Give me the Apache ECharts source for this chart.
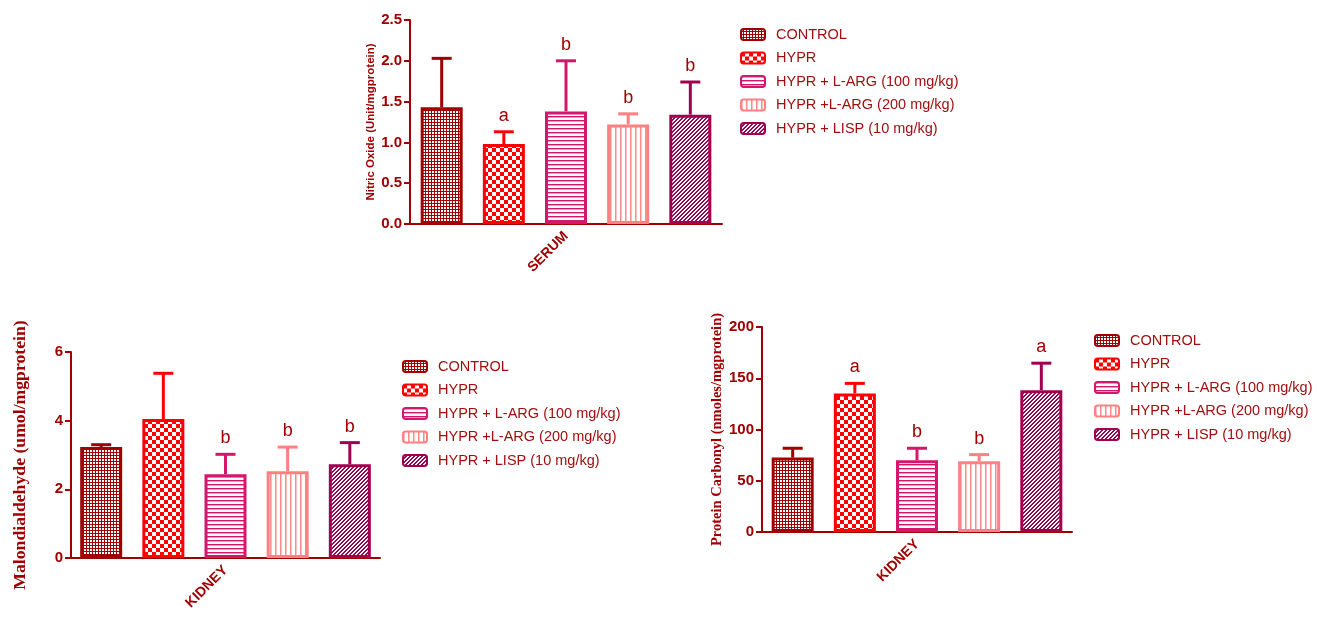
<!DOCTYPE html>
<html>
<head>
<meta charset="utf-8">
<script src="https://cdn.jsdelivr.net/npm/echarts@6/dist/echarts.min.js"></script>
<style>
html,body{margin:0;padding:0;background:#fff;}
#chart{width:1320px;height:619px;}
</style>
</head>
<body>
<div id="chart"></div>
<script>
// ---- data ----
var groups = ['CONTROL', 'HYPR', 'HYPR + L-ARG (100 mg/kg)', 'HYPR +L-ARG (200 mg/kg)', 'HYPR + LISP (10 mg/kg)'];
var nitricCategory = ['SERUM'];
var nitricMean = [1.43, 0.98, 1.38, 1.22, 1.34];
var nitricErr = [0.60, 0.15, 0.62, 0.13, 0.40];
var nitricLetters = ['', 'a', 'b', 'b', 'b'];
var nitricTicks = { min: 0, max: 2.5, interval: 0.5 };

var mdaCategory = ['KIDNEY'];
var mdaMean = [3.23, 4.05, 2.44, 2.53, 2.73];
var mdaErr = [0.07, 1.33, 0.58, 0.70, 0.63];
var mdaLetters = ['', '', 'b', 'b', 'b'];
var mdaTicks = { min: 0, max: 6, interval: 2 };

var pcCategory = ['KIDNEY'];
var pcMean = [72.6, 135.2, 70.0, 69.0, 138.4];
var pcErr = [9.1, 9.8, 11.7, 6.5, 26.3];
var pcLetters = ['', 'a', 'b', 'b', 'a'];
var pcTicks = { min: 0, max: 200, interval: 50 };

// ---- styles ----
var colors = ['#A00000', '#FF0000', '#D4166C', '#FF8080', '#A00050'];
var AXIS = '#A00000';
var BAR_W = 42;
var GAP_RATIO = 0.48;
var STEP = BAR_W * (1 + GAP_RATIO);

function tile(w, h, draw) {
  var c = document.createElement('canvas');
  c.width = w; c.height = h;
  var ctx = c.getContext('2d');
  draw(ctx);
  return { image: c, repeat: 'repeat' };
}
var patterns = [
  tile(3, 3, function (g) { g.fillStyle = '#A00000'; g.fillRect(0, 0, 3, 3); g.fillStyle = '#fff'; g.fillRect(0, 0, 2, 2); }),
  tile(8, 8, function (g) { g.fillStyle = '#fff'; g.fillRect(0, 0, 8, 8); g.fillStyle = '#FF0000'; g.fillRect(0, 0, 4, 4); g.fillRect(4, 4, 4, 4); }),
  tile(4, 4, function (g) { g.fillStyle = '#fff'; g.fillRect(0, 0, 4, 4); g.fillStyle = '#D4166C'; g.fillRect(0, 0, 4, 1); g.fillStyle = '#EE9AC0'; g.fillRect(0, 1, 4, 1); }),
  tile(5, 5, function (g) { g.fillStyle = '#fff'; g.fillRect(0, 0, 5, 5); g.fillStyle = '#FF8A8A'; g.fillRect(0, 0, 1, 5); g.fillStyle = '#FFC0C0'; g.fillRect(1, 0, 1, 5); }),
  tile(4, 4, function (g) { g.fillStyle = '#fff'; g.fillRect(0, 0, 4, 4); g.fillStyle = '#A00050';
    for (var y = 0; y < 4; y++) { g.fillRect((3 - y + 4) % 4, y, 1, 1); g.fillRect((4 - y + 4) % 4, y, 1, 1); } })
];

var grids = [
  { left: 410, top: 20, width: 312, height: 204 },
  { left: 71, top: 352, width: 309, height: 206 },
  { left: 762, top: 327, width: 310, height: 205 }
];
var panels = [
  { cat: nitricCategory, mean: nitricMean, err: nitricErr, letters: nitricLetters, ticks: nitricTicks,
    name: 'Nitric Oxide (Unit/mgprotein)', nameGap: 33, nameFont: { fontFamily: 'Liberation Sans, Arial', fontSize: 11.5, fontWeight: 'bold' },
    decimals: 1, legend: { left: 740, top: 27 } },
  { cat: mdaCategory, mean: mdaMean, err: mdaErr, letters: mdaLetters, ticks: mdaTicks,
    name: 'Malondialdehyde (umol/mgprotein)', nameGap: 42, nameFont: { fontFamily: 'Liberation Serif, Times New Roman', fontSize: 17.7, fontWeight: 'bold' },
    decimals: 0, legend: { left: 402, top: 359 } },
  { cat: pcCategory, mean: pcMean, err: pcErr, letters: pcLetters, ticks: pcTicks,
    name: 'Protein Carbonyl (nmoles/mgprotein)', nameGap: 37, nameFont: { fontFamily: 'Liberation Serif, Times New Roman', fontSize: 14.5, fontWeight: 'bold' },
    decimals: 0, legend: { left: 1094, top: 333 } }
];

var xAxes = [], yAxes = [], series = [], legends = [];
panels.forEach(function (p, k) {
  xAxes.push({
    type: 'category', gridIndex: k, data: p.cat,
    axisLine: { lineStyle: { color: AXIS, width: 2 } },
    axisTick: { alignWithLabel: true, length: 6, lineStyle: { color: AXIS, width: 2 } },
    axisLabel: { rotate: 45, margin: 10, color: AXIS, fontFamily: 'Liberation Sans, Arial', fontSize: 14, fontWeight: 'bold' }
  });
  yAxes.push({
    type: 'value', gridIndex: k, min: p.ticks.min, max: p.ticks.max, interval: p.ticks.interval,
    name: p.name, nameLocation: 'middle', nameGap: p.nameGap,
    nameTextStyle: Object.assign({ color: AXIS }, p.nameFont),
    axisLine: { show: true, lineStyle: { color: AXIS, width: 2 } },
    axisTick: { show: true, length: 6, lineStyle: { color: AXIS, width: 2 } },
    splitLine: { show: false },
    axisLabel: { margin: 8, color: AXIS, fontFamily: 'Liberation Sans, Arial', fontSize: 15, fontWeight: 'bold',
      formatter: (function (d) { return function (v) { return v.toFixed(d); }; })(p.decimals) }
  });
  groups.forEach(function (g, i) {
    series.push({
      type: 'bar', name: g, xAxisIndex: k, yAxisIndex: k,
      barWidth: BAR_W, barGap: (GAP_RATIO * 100) + '%',
      data: [p.mean[i]],
      itemStyle: { color: patterns[i], borderColor: colors[i], borderWidth: 3 },
      emphasis: { disabled: true }, z: 3
    });
  });
  series.push({
    type: 'custom', xAxisIndex: k, yAxisIndex: k, z: 2, silent: true,
    data: p.mean.map(function (m, i) { return [0, m, p.err[i], i]; }),
    renderItem: (function (pp) {
      return function (params, api) {
        var i = api.value(3);
        var m = api.value(1), e = api.value(2);
        var base = api.coord([0, m]);
        var top = api.coord([0, m + e]);
        var cx = base[0] + (i - 2) * STEP;
        var children = [
          { type: 'line', shape: { x1: cx, y1: base[1], x2: cx, y2: top[1] }, style: { stroke: colors[i], lineWidth: 3 } },
          { type: 'line', shape: { x1: cx - 10, y1: top[1], x2: cx + 10, y2: top[1] }, style: { stroke: colors[i], lineWidth: 3 } }
        ];
        var L = pp.letters[i];
        if (L) {
          children.push({ type: 'text', style: { text: L, x: cx, y: top[1] - 16, align: 'center', verticalAlign: 'middle',
            fill: AXIS, font: '18px "Liberation Sans", Arial' } });
        }
        return { type: 'group', children: children };
      };
    })(p)
  });
  legends.push({
    orient: 'vertical', left: p.legend.left, top: p.legend.top, padding: 0,
    data: groups, itemWidth: 24, itemHeight: 11, itemGap: 8.5,
    selectedMode: false,
    textStyle: { color: '#A01010', fontFamily: 'Liberation Sans, Arial', fontSize: 14.5, lineHeight: 15, padding: [0, 0, 0, 6] }
  });
});

var chart = echarts.init(document.getElementById('chart'), null, { renderer: 'canvas' });
chart.setOption({
  animation: false,
  backgroundColor: '#fff',
  grid: grids,
  xAxis: xAxes,
  yAxis: yAxes,
  legend: legends,
  series: series
});
</script>
</body>
</html>
